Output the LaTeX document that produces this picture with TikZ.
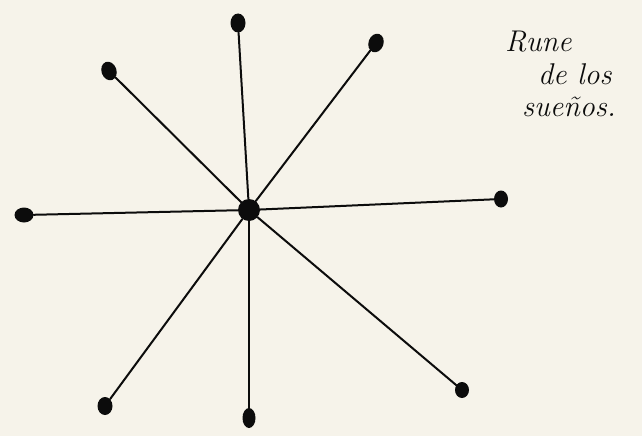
\documentclass[tikz,border=0pt]{standalone}
\usetikzlibrary{shapes.geometric}
\definecolor{paper}{RGB}{246,243,234}
\definecolor{ink}{RGB}{12,12,12}
\tikzset{
  dot/.style={ellipse, fill=ink, inner sep=0pt, minimum width=15pt, minimum height=19pt},
  hub/.style={circle, fill=ink, inner sep=0pt, minimum size=22pt},
  ray/.style={draw=ink, line width=2pt, line cap=round},
  note/.style={font=\itshape\fontsize{30}{34}\selectfont, text=ink, anchor=base west, inner sep=0pt}
}
\begin{document}
\begin{tikzpicture}[x=1pt,y=-1pt]
\fill[paper] (0,0) rectangle (642,436);
\useasboundingbox (0,0) rectangle (642,436);
\node[hub] (c) at (249,210) {};
\node[dot] (n) at (238,23) {};
\node[dot, rotate=-20] (ne) at (376,43) {};
\node[dot, rotate=20] (nw) at (109,71) {};
\node[dot, rotate=90] (w) at (24,215) {};
\node[dot, minimum width=14pt, minimum height=17pt] (e) at (501,199) {};
\node[dot, minimum width=14pt, minimum height=16pt] (se) at (462,390) {};
\node[dot, minimum width=13pt, minimum height=20pt] (s) at (249,418) {};
\node[dot, minimum width=15pt, minimum height=18pt] (sw) at (105,406) {};
\foreach \t in {n,ne,nw,w,e,se,s,sw} \draw[ray] (c) -- (\t);
\node[note] (t1) at (505,52) {Rune};
\node[note] (t2) at (538,84) {de los};
\node[note] (t3) at (522,116) {sueños.};
\end{tikzpicture}
\end{document}
